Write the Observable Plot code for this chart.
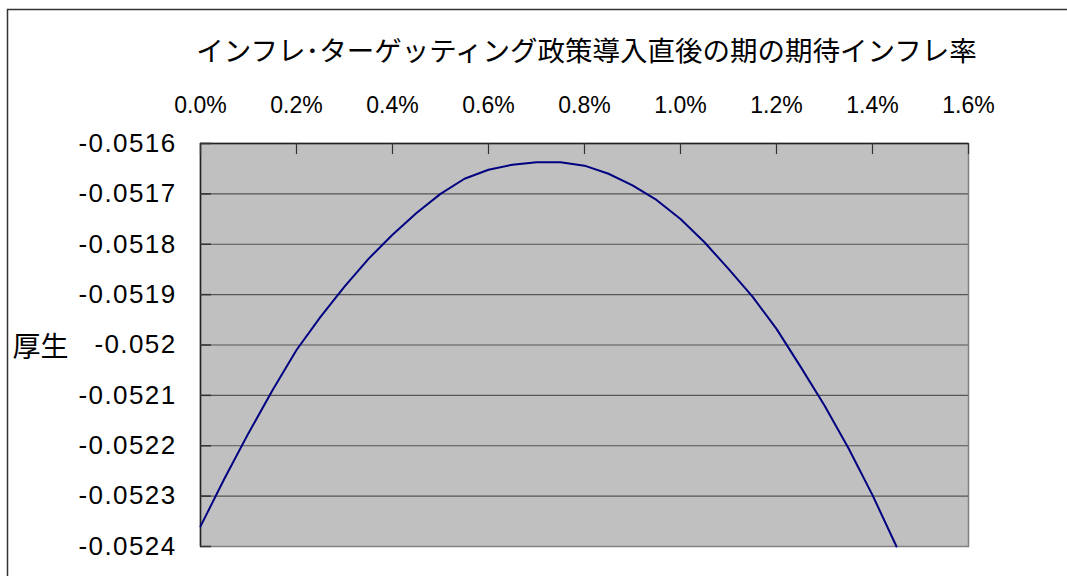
<!DOCTYPE html>
<html>
<head>
<meta charset="utf-8">
<script src="https://cdn.jsdelivr.net/npm/d3@7"></script>
<script src="https://cdn.jsdelivr.net/npm/@observablehq/plot@0.6"></script>
<style>
  html, body { margin: 0; padding: 0; background: #fff; }
  #chart { width: 1067px; height: 576px; overflow: hidden; }
</style>
</head>
<body>
<div id="chart"></div>
<script>
const titleText = "インフレ･ターゲッティング政策導入直後の期の期待インフレ率";
const yLabelText = "厚生";

// expected inflation (%) and welfare
const inflation = [0.00, 0.05, 0.10, 0.15, 0.20, 0.25, 0.30, 0.35, 0.40, 0.45,
                   0.50, 0.55, 0.60, 0.65, 0.70, 0.75, 0.80, 0.85, 0.90, 0.95,
                   1.00, 1.05, 1.10, 1.15, 1.20, 1.25, 1.30, 1.35, 1.40, 1.45];
const welfare = [-0.05236, -0.052265, -0.052175, -0.05209, -0.05201, -0.051944, -0.051884, -0.051829, -0.051781, -0.051738,
                 -0.0517, -0.05167, -0.051652, -0.051642, -0.051637, -0.051637, -0.051644, -0.05166, -0.051683, -0.051712,
                 -0.05175, -0.051796, -0.051849, -0.051904, -0.051968, -0.052043, -0.05212, -0.052205, -0.052298, -0.0524];

const xTicks = [0, 0.2, 0.4, 0.6, 0.8, 1.0, 1.2, 1.4, 1.6];
const xTickLabels = ["0.0%", "0.2%", "0.4%", "0.6%", "0.8%", "1.0%", "1.2%", "1.4%", "1.6%"];
const yTicks = [-0.0516, -0.0517, -0.0518, -0.0519, -0.052, -0.0521, -0.0522, -0.0523, -0.0524];
const yTickLabels = ["-0.0516", "-0.0517", "-0.0518", "-0.0519", "-0.052", "-0.0521", "-0.0522", "-0.0523", "-0.0524"];

const data = inflation.map((x, i) => ({x, y: welfare[i]}));

const W = 1067, H = 576;
const mL = 200, mT = 143, mR = 99, mB = 30;
const frameW = W - mL - mR, frameH = H - mT - mB;
const numFont = "'Liberation Sans', Arial, sans-serif";
const cjkFont = "'Noto Sans CJK JP', sans-serif";

const plot = Plot.plot({
  width: W,
  height: H,
  marginLeft: mL,
  marginTop: mT,
  marginRight: mR,
  marginBottom: mB,
  style: {background: "#fff", fontFamily: numFont, color: "#000"},
  x: {domain: [0, 1.6]},
  y: {domain: [-0.0524, -0.0516]},
  marks: [
    Plot.frame({fill: "#c0c0c0", stroke: null}),
    Plot.ruleY(yTicks, {stroke: "#555", strokeWidth: 1.2}),
    Plot.frame({stroke: "#808080", strokeWidth: 1.5}),
    Plot.ruleX([0], {stroke: "#222", strokeWidth: 1.5}),
    Plot.ruleY([-0.0516], {stroke: "#222", strokeWidth: 1.5}),
    Plot.tickX(xTicks, {x: d => d, insetBottom: frameH - 11, stroke: "#333", strokeWidth: 1.2}),
    Plot.tickY(yTicks, {y: d => d, insetRight: frameW - 11, stroke: "#333", strokeWidth: 1.5}),
    Plot.axisX(xTicks, {anchor: "top", tickSize: 0, tickPadding: 31, fontSize: 23,
      tickFormat: (d, i) => xTickLabels[i], label: null}),
    Plot.axisY(yTicks, {anchor: "left", tickSize: 0, tickPadding: 24, fontSize: 26,
      tickFormat: (d, i) => yTickLabels[i], label: null}),
    Plot.line(data, {x: "x", y: "y", stroke: "#000080", strokeWidth: 2}),
    Plot.text([titleText], {frameAnchor: "top", dy: -102, dx: 2, fontSize: 27.5, fontFamily: cjkFont, fill: "#000"}),
    Plot.text([yLabelText], {frameAnchor: "left", dx: -188, dy: 3, fontSize: 28, fontFamily: cjkFont, fill: "#000"})
  ]
});

// widen the y tick labels a little, like the original rendering
d3.select(plot).selectAll("g[aria-label='y-axis tick label'] text")
  .style("letter-spacing", "1.4px");

// outer chart-area border (extends past the crop)
d3.select(plot).append("rect")
  .attr("x", 7.5).attr("y", 9.5)
  .attr("width", 1200).attr("height", 700)
  .attr("fill", "none").attr("stroke", "#333").attr("stroke-width", 1.5);

document.getElementById("chart").appendChild(plot);
</script>
</body>
</html>
